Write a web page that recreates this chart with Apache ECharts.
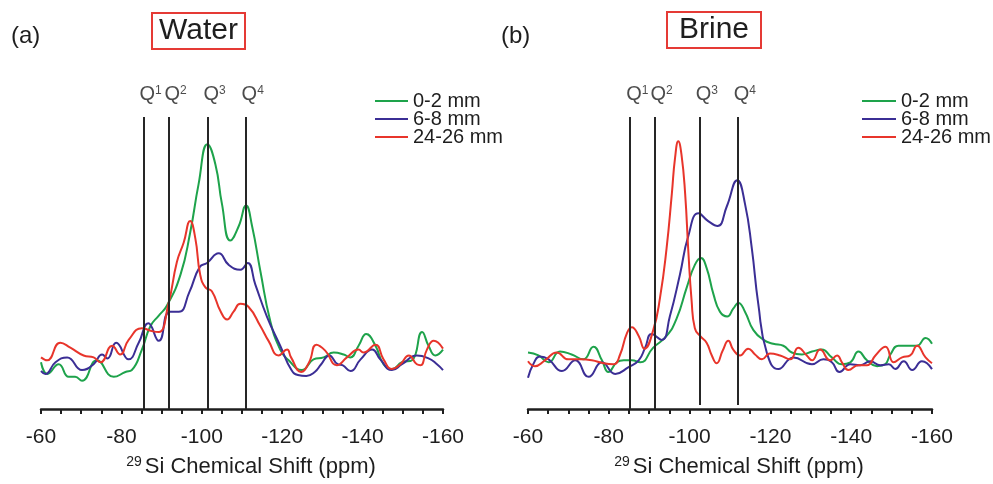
<!DOCTYPE html>
<html>
<head>
<meta charset="utf-8">
<script src="https://cdn.jsdelivr.net/npm/echarts@6/dist/echarts.min.js"></script>
<style>
html,body{margin:0;padding:0;background:#fff;}
#chart{width:993px;height:484px;}
</style>
</head>
<body>
<div id="chart"></div>
<script>
// ---------- data (chemical shift in ppm, intensity in arbitrary units) ----------
const seriesNames = ['0-2 mm', '6-8 mm', '24-26 mm'];
const tickLabels = [-60, -80, -100, -120, -140, -160];

// Panel (a) Water
const water02X = [-60, -61.6, -64.4, -66.9, -68.5, -70.2, -73.9, -78.1, -81.0, -82.6, -85.1, -87.2, -89.3, -91.3, -94.7, -97.1, -99.2, -101.4, -103.4, -105.0, -107.1, -109.2, -111.0, -112.5, -114.6, -117.0, -119.5, -121.6, -124.9, -127.8, -130.3, -132.8, -135.3, -136.9, -139.0, -140.9, -143.2, -145.2, -147.3, -149.8, -152.3, -154.8, -156.4, -158.1, -160];
const water02Y = [48, 36, 46, 33, 33, 29, 50, 33, 38, 40, 61, 85, 96, 106, 138, 181, 231, 272, 251, 211, 173, 188, 209, 188, 141, 91, 61, 50, 40, 51, 53, 58, 56, 53, 65, 77, 65, 46, 41, 48, 50, 79, 65, 55, 61];

const water68X = [-60, -61.1, -63.6, -66.5, -70.2, -73.1, -75.2, -76.5, -78.7, -81.8, -84.3, -86.7, -89.3, -92.0, -94.3, -96.9, -99.5, -101.3, -104.2, -106.7, -109.6, -111.4, -113.3, -116.2, -119.5, -122.3, -123.9, -126.0, -128.1, -129.7, -131.7, -133.8, -135.0, -137.0, -139.5, -142.4, -144.4, -147.3, -149.8, -153.5, -156.4, -158.5, -160];
const water68Y = [39, 36, 48, 53, 40, 46, 56, 52, 68, 51, 68, 88, 70, 100, 100, 120, 146, 150, 160, 148, 143, 150, 128, 95, 65, 40, 35, 34, 38, 46, 55, 46, 45, 39, 51, 61, 51, 40, 46, 55, 52, 46, 40];

const water2426X = [-60, -61.5, -64.8, -67.3, -70.6, -73.1, -74.8, -77.7, -79.7, -81.8, -85.1, -87.6, -89.3, -91.7, -93.8, -95.5, -97.1, -98.4, -99.6, -100.9, -102.5, -104.6, -106.3, -107.9, -109.6, -111.6, -114.6, -116.6, -119.1, -121.2, -122.2, -124.7, -126.7, -128.5, -130.7, -133.6, -136.1, -139.0, -140.2, -143.2, -145.2, -147.3, -149.4, -151.5, -153.5, -154.4, -156.0, -157.7, -160];
const water2426Y = [53, 50, 68, 63, 55, 53, 48, 65, 56, 71, 83, 80, 79, 108, 151, 171, 193, 175, 138, 125, 121, 101, 92, 100, 108, 105, 85, 70, 55, 61, 53, 38, 48, 66, 60, 45, 53, 61, 58, 66, 51, 41, 46, 55, 46, 45, 61, 70, 62];

// Panel (b) Brine
const brine02X = [-60, -62.6, -65.1, -67.9, -70.8, -73.7, -76.2, -78.3, -79.9, -82.0, -83.7, -85.7, -87.8, -91.0, -94.3, -96.8, -99.3, -101.3, -102.8, -104.2, -105.9, -107.5, -109.3, -110.8, -112.1, -113.7, -115.8, -118.3, -120.7, -123.2, -125.3, -127.8, -130.3, -132.7, -135.2, -137.7, -139.8, -141.8, -143.9, -146.4, -148.4, -149.7, -151.7, -154.6, -156.3, -158.4, -160];
const brine02Y = [58, 55, 48, 59, 56, 51, 64, 50, 38, 48, 50, 50, 48, 63, 75, 93, 125, 148, 155, 145, 118, 100, 95, 103, 109, 100, 81, 71, 67, 65, 58, 56, 59, 61, 53, 46, 48, 59, 50, 44, 46, 56, 65, 65, 65, 73, 67];

const brine68X = [-60, -61.3, -63.0, -65.1, -68.4, -71.7, -75.0, -78.3, -81.6, -84.9, -87.4, -89.0, -90.6, -93.1, -95.1, -97.6, -99.7, -102.2, -104.6, -106.9, -109.2, -111.8, -113.7, -115.4, -117.0, -119.1, -122.0, -125.7, -130.3, -133.1, -135.2, -137.1, -139.8, -142.2, -144.7, -147.2, -149.3, -150.9, -153.0, -155.1, -157.5, -160];
const brine68Y = [32, 46, 54, 51, 39, 50, 33, 48, 36, 43, 50, 63, 77, 71, 95, 138, 178, 201, 193, 188, 208, 235, 211, 165, 108, 58, 41, 53, 46, 51, 48, 38, 46, 45, 49, 45, 46, 41, 49, 40, 49, 41];

const brine2426X = [-60, -61.7, -64.2, -67.1, -70.0, -72.9, -75.8, -78.7, -81.2, -82.8, -84.5, -85.7, -87.4, -88.8, -91.0, -92.7, -94.3, -95.6, -96.4, -97.2, -98.0, -98.9, -99.7, -100.5, -101.3, -102.6, -104.2, -105.5, -106.7, -108.2, -109.6, -110.8, -112.5, -114.5, -116.2, -117.9, -119.9, -122.4, -124.9, -126.9, -129.0, -130.3, -132.3, -134.8, -136.5, -137.7, -139.3, -141.8, -143.9, -146.0, -148.5, -150.5, -152.6, -154.6, -156.3, -158.4, -160];
const brine2426Y = [49, 44, 50, 58, 51, 51, 50, 47, 46, 56, 78, 84, 75, 62, 81, 115, 165, 221, 258, 275, 261, 221, 161, 111, 83, 75, 68, 55, 47, 60, 70, 61, 55, 62, 56, 51, 57, 55, 51, 63, 55, 50, 61, 50, 55, 48, 40, 45, 45, 55, 64, 48, 53, 55, 65, 53, 47];

// Q-site reference lines (ppm), their superscripts, and lower ends (intensity units)
const qWater = [-85.5, -91.7, -101.4, -110.9];
const qBrine = [-85.3, -91.3, -102.5, -111.9];
const qSup = ['1', '2', '3', '4'];
const qWaterBottom = [0, 0, 0, 0];
const qBrineBottom = [0, 0, 4, 4];
const qTop = 300;
const qLabelLevel = 323;

// ---------- chart ----------
const FONT = '"Liberation Sans", Arial, Helvetica, sans-serif';
const TXT = '#1e1e1e';
const colors = ['#1ea34b', '#3b2e95', '#e8352b'];

function zip(xs, ys) { return xs.map((x, i) => [x, ys[i]]); }

function xAxisFor(gi) {
  return {
    type: 'value', gridIndex: gi, min: -160, max: -60, interval: 5, inverse: true,
    axisLine: { show: true, onZero: false, lineStyle: { color: TXT, width: 2.5 } },
    axisTick: { show: true, length: 5, lineStyle: { color: TXT, width: 2 } },
    splitLine: { show: false },
    axisLabel: {
      color: TXT, fontSize: 21, fontFamily: FONT, margin: 18,
      formatter: v => tickLabels.includes(v) ? String(v) : '',
      showMinLabel: true, showMaxLabel: true, hideOverlap: false
    },
    name: '{sup|29}Si Chemical Shift (ppm)',
    nameLocation: 'middle', nameGap: 46,
    nameTextStyle: {
      color: TXT, fontSize: 22, fontFamily: FONT, lineHeight: 24, padding: [0, 0, 0, 18],
      rich: { sup: { fontSize: 14, fontFamily: FONT, color: TXT, verticalAlign: 'top', lineHeight: 24, padding: [0, 3, 0, 0] } }
    }
  };
}
function yAxisFor(gi) {
  return { type: 'value', gridIndex: gi, min: 0, max: 340, show: false };
}

function lineSeries(name, xs, ys, ci, gi) {
  return {
    type: 'line', name: name, xAxisIndex: gi, yAxisIndex: gi,
    data: zip(xs, ys), symbol: 'none', smooth: 0.5,
    lineStyle: { color: colors[ci], width: 2 }, itemStyle: { color: colors[ci] },
    silent: true, z: 3
  };
}
function qLineSeries(qs, bottoms, gi) {
  return {
    type: 'line', name: 'qlines' + gi, xAxisIndex: gi, yAxisIndex: gi, data: [], silent: true,
    markLine: {
      silent: true, symbol: ['none', 'none'], animation: false,
      label: { show: false },
      lineStyle: { color: '#262626', width: 2, type: 'solid' },
      emphasis: { disabled: true },
      data: qs.map((q, i) => [{ coord: [q, bottoms[i]] }, { coord: [q, qTop] }])
    }, z: 2
  };
}
function qLabelSeries(qs, gi) {
  return {
    type: 'scatter', name: 'qlabels' + gi, xAxisIndex: gi, yAxisIndex: gi, symbolSize: 0, silent: true,
    data: qs.map(q => [q, qLabelLevel]),
    label: {
      show: true, position: [-4, 0], align: 'left', verticalAlign: 'middle',
      color: TXT, fontSize: 20, fontFamily: FONT, lineHeight: 20,
      formatter: p => 'Q{s|' + qSup[p.dataIndex] + '}',
      rich: { s: { fontSize: 12, fontFamily: FONT, color: TXT, verticalAlign: 'top', lineHeight: 20 } }
    }
  };
}
function legendFor(left, width) {
  return {
    data: seriesNames, orient: 'vertical', left: left, top: 91, padding: 0, itemGap: -2,
    icon: 'rect', itemWidth: width, itemHeight: 2, selectedMode: false,
    textStyle: { color: TXT, fontSize: 20, fontFamily: FONT, lineHeight: 18 }
  };
}

const chart = echarts.init(document.getElementById('chart'), null, { renderer: 'canvas' });
chart.setOption({
  animation: false,
  backgroundColor: '#ffffff',
  textStyle: { fontFamily: FONT },
  title: [
    { text: '(a)', left: 11, top: 24, padding: 0, textStyle: { color: TXT, fontSize: 24, fontWeight: 'normal', fontFamily: FONT } },
    { text: 'Water', left: 152, top: 13, padding: [3, 7, 3, 7], borderColor: '#e53a35', borderWidth: 2,
      textStyle: { color: TXT, fontSize: 30, fontWeight: 'normal', fontFamily: FONT } },
    { text: '(b)', left: 501, top: 24, padding: 0, textStyle: { color: TXT, fontSize: 24, fontWeight: 'normal', fontFamily: FONT } },
    { text: 'Brine', left: 667, top: 12, padding: [3, 12, 3, 12], borderColor: '#e53a35', borderWidth: 2,
      textStyle: { color: TXT, fontSize: 30, fontWeight: 'normal', fontFamily: FONT } }
  ],
  legend: [legendFor(375, 33), legendFor(862, 34)],
  grid: [
    { left: 41, width: 402, top: 78, height: 340 },
    { left: 528, width: 404, top: 78, height: 340 }
  ],
  xAxis: [xAxisFor(0), xAxisFor(1)],
  yAxis: [yAxisFor(0), yAxisFor(1)],
  series: [
    qLineSeries(qWater, qWaterBottom, 0),
    qLabelSeries(qWater, 0),
    lineSeries(seriesNames[0], water02X, water02Y, 0, 0),
    lineSeries(seriesNames[1], water68X, water68Y, 1, 0),
    lineSeries(seriesNames[2], water2426X, water2426Y, 2, 0),
    qLineSeries(qBrine, qBrineBottom, 1),
    qLabelSeries(qBrine, 1),
    lineSeries(seriesNames[0], brine02X, brine02Y, 0, 1),
    lineSeries(seriesNames[1], brine68X, brine68Y, 1, 1),
    lineSeries(seriesNames[2], brine2426X, brine2426Y, 2, 1)
  ]
});
</script>
</body>
</html>
